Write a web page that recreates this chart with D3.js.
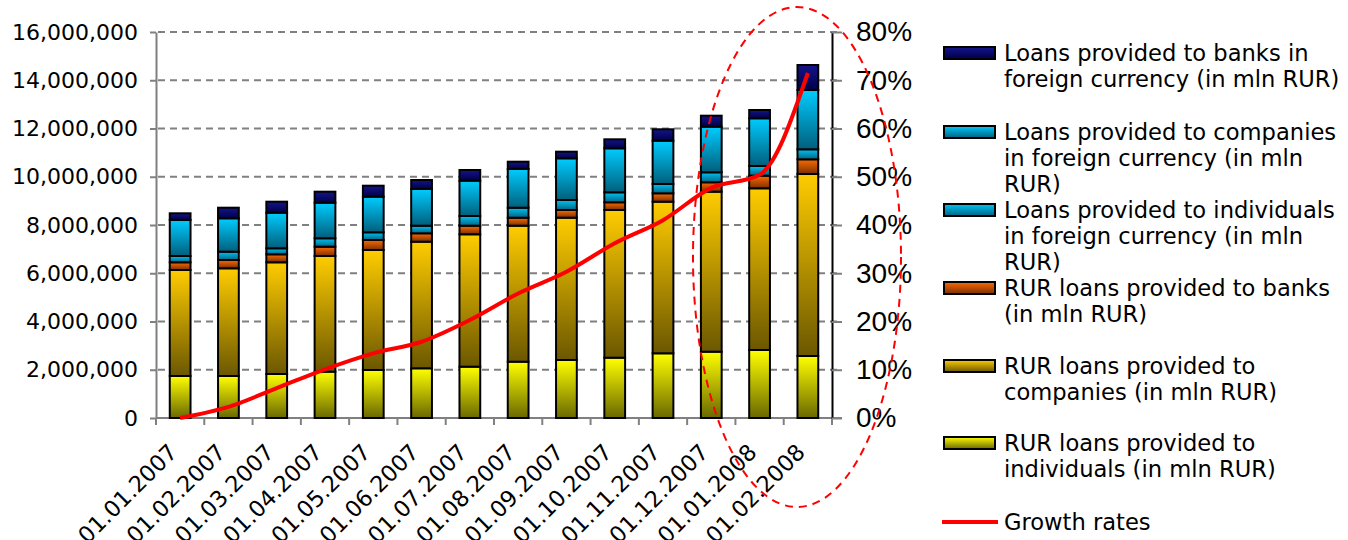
<!DOCTYPE html>
<html>
<head>
<meta charset="utf-8">
<script src="https://cdn.jsdelivr.net/npm/d3@7"></script>
<style>
  body { margin: 0; background: #fff; }
  svg { display: block; }
</style>
</head>
<body>
<div id="chart"></div>
<script>
// categories (x axis)
var dates = ["01.01.2007", "01.02.2007", "01.03.2007", "01.04.2007", "01.05.2007", "01.06.2007",
  "01.07.2007", "01.08.2007", "01.09.2007", "01.10.2007", "01.11.2007", "01.12.2007",
  "01.01.2008", "01.02.2008"];

// series values, stacked bottom -> top
var indivRUR = [1741000, 1741000, 1824000, 1921000, 1990000, 2060000, 2127000, 2334000, 2404000, 2500000, 2682000, 2748000, 2819000, 2570000];
var compRUR  = [4394000, 4464000, 4630000, 4794000, 4974000, 5248000, 5488000, 5637000, 5899000, 6122000, 6284000, 6633000, 6702000, 7544000];
var banksRUR = [319000, 344000, 331000, 386000, 414000, 348000, 356000, 332000, 319000, 319000, 348000, 389000, 523000, 609000];
var indivFX  = [261000, 345000, 249000, 348000, 319000, 315000, 402000, 414000, 414000, 414000, 386000, 414000, 402000, 415000];
var compFX   = [1495000, 1384000, 1476000, 1476000, 1476000, 1521000, 1464000, 1604000, 1728000, 1824000, 1794000, 1891000, 1977000, 2458000];
var banksFX  = [275000, 439000, 456000, 456000, 456000, 373000, 443000, 303000, 275000, 373000, 473000, 456000, 344000, 1036000];

// growth rate line (%), right axis
var growth = [0, 2.3, 6.2, 10.1, 13.4, 15.8, 20.3, 25.8, 30.3, 36.2, 41.0, 47.7, 50.4, 71.5];

// axis ticks
var leftTicks = [0, 2000000, 4000000, 6000000, 8000000, 10000000, 12000000, 14000000, 16000000];
var rightTicks = [0, 10, 20, 30, 40, 50, 60, 70, 80];

var keys = ["indivRUR", "compRUR", "banksRUR", "indivFX", "compFX", "banksFX"];
var seriesArrays = [indivRUR, compRUR, banksRUR, indivFX, compFX, banksFX];

// legend, top to bottom
var legendKeys = ["banksFX", "compFX", "indivFX", "banksRUR", "compRUR", "indivRUR", "growth"];
var legendLines = [
  ["Loans provided to banks in", "foreign currency (in mln RUR)"],
  ["Loans provided to companies", "in foreign currency (in mln", "RUR)"],
  ["Loans provided to individuals", "in foreign currency (in mln", "RUR)"],
  ["RUR loans provided to banks", "(in mln RUR)"],
  ["RUR loans provided to", "companies (in mln RUR)"],
  ["RUR loans provided to", "individuals (in mln RUR)"],
  ["Growth rates"]
];

// gradient colours (top, bottom)
var gradColors = {
  banksFX:  ["#14148a", "#00004a"],
  compFX:   ["#00ccff", "#005f7c"],
  indivFX:  ["#00c4f4", "#006484"],
  banksRUR: ["#ff6a00", "#7a3000"],
  compRUR:  ["#ffcc00", "#6b5700"],
  indivRUR: ["#ffff00", "#6a6800"]
};

var W = 1348, H = 540;
var plotLeft = 156, plotRight = 832, plotTop = 32, plotBottom = 418;

var rows = dates.map(function(d, i) {
  var r = { date: d };
  keys.forEach(function(k, j) { r[k] = seriesArrays[j][i]; });
  return r;
});

var svg = d3.select("#chart")
  .append("svg")
  .attr("width", W)
  .attr("height", H);

var defs = svg.append("defs");
keys.forEach(function(k) {
  var g = defs.append("linearGradient")
    .attr("id", "g_" + k)
    .attr("x1", 0).attr("y1", 0).attr("x2", 0).attr("y2", 1);
  g.append("stop").attr("offset", "0%").attr("stop-color", gradColors[k][0]);
  g.append("stop").attr("offset", "100%").attr("stop-color", gradColors[k][1]);
});

var xScale = d3.scaleBand()
  .domain(dates)
  .range([plotLeft, plotRight])
  .paddingInner(0.57)
  .paddingOuter(0.285);

var yScale = d3.scaleLinear()
  .domain([0, 16000000])
  .range([plotBottom, plotTop]);

var yRight = d3.scaleLinear()
  .domain([0, 80])
  .range([plotBottom, plotTop]);

var step = xScale.step();

// gridlines
svg.append("g")
  .selectAll("line")
  .data(leftTicks.slice(1))
  .join("line")
  .attr("x1", plotLeft + 2)
  .attr("x2", plotRight + 10)
  .attr("y1", d => yScale(d))
  .attr("y2", d => yScale(d))
  .attr("stroke", "#808080")
  .attr("stroke-width", 2)
  .attr("stroke-dasharray", "7,5");

// left axis
var yAxis = svg.append("g")
  .attr("transform", `translate(${plotLeft},0)`)
  .call(d3.axisLeft(yScale).tickValues(leftTicks).tickSize(6).tickSizeOuter(0).tickFormat(d3.format(",")));
yAxis.select(".domain").attr("stroke", "#808080").attr("stroke-width", 2);
yAxis.selectAll(".tick line").attr("stroke", "#808080").attr("stroke-width", 2);
yAxis.selectAll(".tick text")
  .attr("x", -18)
  .style("font-family", "'DejaVu Sans', Verdana, sans-serif")
  .style("font-size", "22px")
  .attr("fill", "#000");

// bottom axis line + ticks between categories
svg.append("line")
  .attr("x1", plotLeft).attr("x2", plotRight + 10)
  .attr("y1", plotBottom).attr("y2", plotBottom)
  .attr("stroke", "#808080").attr("stroke-width", 2);
svg.append("g")
  .selectAll("line")
  .data(d3.range(dates.length + 1))
  .join("line")
  .attr("x1", i => plotLeft + i * step)
  .attr("x2", i => plotLeft + i * step)
  .attr("y1", plotBottom)
  .attr("y2", plotBottom + 7)
  .attr("stroke", "#808080")
  .attr("stroke-width", 2);

// x labels, rotated
svg.append("g")
  .selectAll("text")
  .data(dates)
  .join("text")
  .attr("transform", d => `translate(${xScale(d) + xScale.bandwidth() / 2 - 7},${plotBottom + 30}) rotate(-45)`)
  .attr("text-anchor", "end")
  .attr("dy", "0.35em")
  .style("font-family", "'DejaVu Sans', Verdana, sans-serif")
  .style("font-size", "22.5px")
  .text(d => d);

// stacked bars
var stackedData = d3.stack().keys(keys)(rows);

svg.append("g")
  .selectAll("g")
  .data(stackedData)
  .join("g")
  .attr("fill", d => "url(#g_" + d.key + ")")
  .selectAll("rect")
  .data(d => d)
  .join("rect")
  .attr("x", d => xScale(d.data.date))
  .attr("y", d => yScale(d[1]))
  .attr("height", d => yScale(d[0]) - yScale(d[1]))
  .attr("width", xScale.bandwidth())
  .attr("stroke", "#000")
  .attr("stroke-width", 2);

// right axis
var yAxisR = svg.append("g")
  .attr("transform", `translate(${plotRight},0)`)
  .call(d3.axisRight(yRight).tickValues(rightTicks).tickSize(10).tickSizeOuter(0).tickFormat(d => d + "%"));
yAxisR.select(".domain").attr("stroke", "#000").attr("stroke-width", 2);
yAxisR.selectAll(".tick line").attr("stroke", "#808080").attr("stroke-width", 2);
yAxisR.selectAll(".tick text")
  .attr("x", 24)
  .style("font-family", "'Liberation Sans', Arial, sans-serif")
  .style("font-size", "28px")
  .attr("fill", "#000");

// growth line
var line = d3.line()
  .x((d, i) => xScale(dates[i]) + xScale.bandwidth() / 2)
  .y(d => yRight(d))
  .curve(d3.curveMonotoneX);

svg.append("path")
  .datum(growth)
  .attr("d", line)
  .attr("fill", "none")
  .attr("stroke", "#ff0000")
  .attr("stroke-width", 4);

// dashed ellipse annotation
svg.append("ellipse")
  .attr("cx", 797)
  .attr("cy", 257)
  .attr("rx", 104)
  .attr("ry", 250)
  .attr("fill", "none")
  .attr("stroke", "#ff0000")
  .attr("stroke-width", 2)
  .attr("stroke-dasharray", "8,6");

// legend
var legendY = [53, 132, 210, 288, 366, 443, 522];
var legend = svg.append("g");
legendKeys.forEach(function(k, i) {
  if (k === "growth") {
    legend.append("line")
      .attr("x1", 942).attr("x2", 998)
      .attr("y1", legendY[i]).attr("y2", legendY[i])
      .attr("stroke", "#ff0000").attr("stroke-width", 4);
  } else {
    legend.append("rect")
      .attr("x", 944).attr("y", legendY[i] - 6)
      .attr("width", 51).attr("height", 12)
      .attr("fill", "url(#g_" + k + ")")
      .attr("stroke", "#000").attr("stroke-width", 2);
  }
  legendLines[i].forEach(function(t, j) {
    legend.append("text")
      .attr("x", 1004)
      .attr("y", legendY[i] + j * 26)
      .attr("dy", "0.35em")
      .style("font-family", "'DejaVu Sans', Verdana, sans-serif")
      .style("font-size", "22.6px")
      .text(t);
  });
});
</script>
</body>
</html>
